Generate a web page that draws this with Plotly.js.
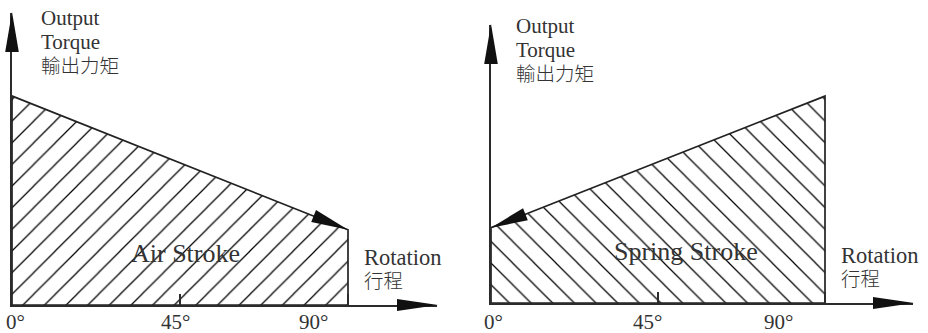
<!DOCTYPE html>
<html><head><meta charset="utf-8">
<script src="https://cdn.plot.ly/plotly-3.0.1.min.js"></script>
<style>html,body{margin:0;padding:0;background:#fff;}#chart{width:928px;height:333px;}</style>
</head><body><div id="chart"></div>
<script>
// ---- data ----
const angles = [0, 90];
const airTorque = [100, 36];
const springTorque = [36, 99];
const tickAngles = [0, 45, 90];
const tickLabels = ['0°', '45°', '90°'];
const yTitleLatin = ['Output', 'Torque'];
const yTitleCJK = '輸出力矩';
const xTitleLatin = 'Rotation';
const xTitleCJK = '行程';
const strokeLabels = ['Air Stroke', 'Spring Stroke'];

// ---- layout constants (pixels) ----
const W = 928, H = 333;
const PX_PER_UNIT = 2.09;
const FONT = "'Liberation Serif', 'Noto Sans CJK TC', serif";
const INK = '#333';
const LINE = '#2b2b2b';
const latSpan = (t, s) => `<span style="font-size:${s}px">${t}</span>`;
const cjkSpan = t => `<span style="font-size:19.5px;font-weight:300">${t}</span>`;

const panels = [
  { values: airTorque, pattern: '/', label: strokeLabels[0],
    x0: 12, y0: 305, x90: 348, xTip: 437, yTip: 13,
    titleX: 39, titleCY: 41, rotX: 362, rotCY: 268,
    strokeCX: 185, strokeY: 253, tickLeft: [4, 159, 297], tickY: 322,
    slopeFromEnd: true },
  { values: springTorque, pattern: '\\', label: strokeLabels[1],
    x0: 491, y0: 303, x90: 825, xTip: 913, yTip: 25,
    titleX: 514, titleCY: 50, rotX: 839, rotCY: 266,
    strokeCX: 686, strokeY: 251, tickLeft: [482, 631, 762], tickY: 322,
    slopeFromEnd: false }
];

const data = [];
const shapes = [];
const annotations = [];
const layout = {
  width: W, height: H, autosize: false,
  margin: {l: 0, r: 0, t: 0, b: 0},
  paper_bgcolor: '#fff', plot_bgcolor: 'rgba(0,0,0,0)',
  showlegend: false, hovermode: false,
  shapes, annotations
};

const px = v => v / W;
const py = v => 1 - v / H;
const f = v => v.toFixed(2);

panels.forEach((p, i) => {
  const sfx = i === 0 ? '' : String(i + 1);
  const xr = 'x' + sfx, yr = 'y' + sfx;
  const pxPerDeg = (p.x90 - p.x0) / (angles[1] - angles[0]);
  const xMax = (p.xTip - p.x0) / pxPerDeg;
  const yMax = (p.y0 - p.yTip) / PX_PER_UNIT;
  const xDom = [p.x0 / W, p.xTip / W];
  const yDom = [(H - p.y0) / H, (H - p.yTip) / H];
  // data -> paper (same linear scale as the axes)
  const xp = v => xDom[0] + v / xMax * (xDom[1] - xDom[0]);
  const yp = v => yDom[0] + v / yMax * (yDom[1] - yDom[0]);

  layout['xaxis' + sfx] = {
    domain: xDom, range: [0, xMax], anchor: yr,
    showgrid: false, zeroline: false, showline: true, linecolor: LINE, linewidth: 2,
    ticks: 'inside', tickvals: tickAngles, ticklen: 11, tickwidth: 1.3, tickcolor: LINE,
    showticklabels: false, fixedrange: true
  };
  layout['yaxis' + sfx] = {
    domain: yDom, range: [0, yMax], anchor: xr,
    showgrid: false, zeroline: false, showline: true, linecolor: LINE, linewidth: 2,
    ticks: '', showticklabels: false, fixedrange: true
  };

  // hatched torque region
  data.push({
    type: 'scatter', mode: 'lines', xaxis: xr, yaxis: yr,
    x: [angles[0], angles[0], angles[1], angles[1], angles[0]],
    y: [0, p.values[0], p.values[1], 0, 0],
    fill: 'toself', fillcolor: 'rgba(255,255,255,0)',
    fillpattern: { shape: p.pattern, size: 15.3, solidity: 0.08, fgcolor: '#000', bgcolor: 'rgba(255,255,255,0)', fillmode: 'replace' },
    line: { color: '#222', width: 1.7 }, hoverinfo: 'skip'
  });

  // axis arrowheads (pixel-sized, anchored to axis ends)
  shapes.push({ type: 'path', xref: 'paper', yref: 'paper', xsizemode: 'pixel', ysizemode: 'pixel',
    xanchor: xp(0), yanchor: yp(yMax), path: 'M0,1 L-6.8,-39 L6.8,-39 Z',
    fillcolor: '#111', line: { width: 0 } });
  shapes.push({ type: 'path', xref: 'paper', yref: 'paper', xsizemode: 'pixel', ysizemode: 'pixel',
    xanchor: xp(xMax), yanchor: yp(0), path: 'M1,0 L-40,6 L-40,-6 Z',
    fillcolor: '#111', line: { width: 0 } });

  // arrowhead on the sloped torque line
  let ax, ay, dx, dy;
  if (p.slopeFromEnd) {
    ax = angles[1]; ay = p.values[1];
    dx = (angles[1] - angles[0]) * pxPerDeg; dy = (p.values[1] - p.values[0]) * PX_PER_UNIT;
  } else {
    ax = angles[0]; ay = p.values[0];
    dx = (angles[0] - angles[1]) * pxPerDeg; dy = (p.values[0] - p.values[1]) * PX_PER_UNIT;
  }
  const len = Math.hypot(dx, dy), ux = dx / len, uy = dy / len;
  const L = 37, w = 6.5;
  const bx = -L * ux, by = -L * uy, nx = -uy, ny = ux;
  shapes.push({ type: 'path', xref: 'paper', yref: 'paper', xsizemode: 'pixel', ysizemode: 'pixel',
    xanchor: xp(ax), yanchor: yp(ay),
    path: `M0,0 L${f(bx + w * nx)},${f(by + w * ny)} L${f(bx - w * nx)},${f(by - w * ny)} Z`,
    fillcolor: '#111', line: { width: 0 } });

  // tick labels
  tickAngles.forEach((a, k) => {
    annotations.push({ xref: 'paper', yref: 'paper', x: px(p.tickLeft[k]), y: py(p.tickY),
      xanchor: 'left', yanchor: 'middle', showarrow: false, text: tickLabels[k],
      font: { family: FONT, size: 21, color: INK } });
  });

  // y title (three lines in one text block)
  annotations.push({ xref: 'paper', yref: 'paper', x: px(p.titleX), y: py(p.titleCY),
    xanchor: 'left', yanchor: 'middle', align: 'left', showarrow: false,
    text: yTitleLatin.map(t => latSpan(t, 21)).join('<br>') + '<br>' + cjkSpan(yTitleCJK),
    font: { family: FONT, size: 18.3, color: INK } });

  // x title (two lines in one text block)
  annotations.push({ xref: 'paper', yref: 'paper', x: px(p.rotX), y: py(p.rotCY),
    xanchor: 'left', yanchor: 'middle', align: 'left', showarrow: false,
    text: latSpan(xTitleLatin, 22.5) + '<br>' + cjkSpan(xTitleCJK),
    font: { family: FONT, size: 17.5, color: INK } });

  // stroke label
  annotations.push({ xref: 'paper', yref: 'paper', x: px(p.strokeCX), y: py(p.strokeY),
    xanchor: 'center', yanchor: 'middle', showarrow: false, text: p.label,
    font: { family: FONT, size: 26, color: INK } });
});

Plotly.newPlot('chart', data, layout, { displayModeBar: false, staticPlot: true });
</script>
</body></html>
